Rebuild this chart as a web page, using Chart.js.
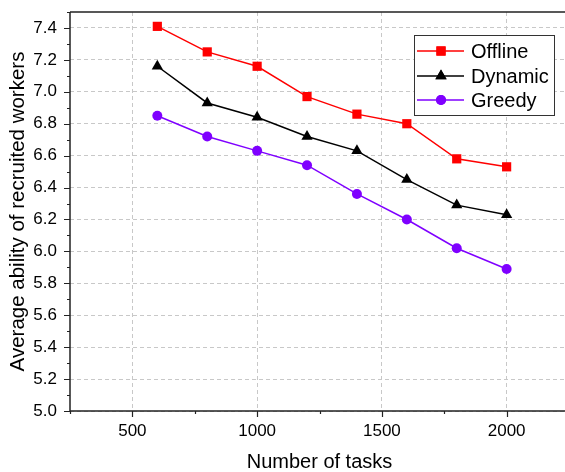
<!DOCTYPE html>
<html>
<head>
<meta charset="utf-8">
<script src="https://cdn.jsdelivr.net/npm/chart.js@4"></script>
<style>
html,body{margin:0;padding:0;background:#fff;overflow:hidden}
canvas{display:block}
</style>
</head>
<body>
<canvas id="chart" width="569" height="472"></canvas>
<script>
const tasks=[600,800,1000,1200,1400,1600,1800,2000]
const offline=[7.41,7.25,7.16,6.97,6.86,6.80,6.58,6.53]
const dynamic=[7.16,6.93,6.84,6.72,6.63,6.45,6.29,6.23]
const greedy=[6.85,6.72,6.63,6.54,6.36,6.20,6.02,5.89]
const xTicks=[500,1000,1500,2000]
const yTicks=[5.0,5.2,5.4,5.6,5.8,6.0,6.2,6.4,6.6,6.8,7.0,7.2,7.4]

const font="'Liberation Sans', Arial, sans-serif"
const axisColor="#222"

function pts(vals){
return tasks.map((t,i)=>({x:t,y:vals[i]}))
}

function series(label,vals,color,style,r){
return {
label:label,
data:pts(vals),
borderColor:color,
backgroundColor:color,
borderWidth:1.5,
pointStyle:style,
pointRadius:r,
pointHoverRadius:r,
pointBorderWidth:0,
tension:0
}
}

// frame, outward ticks (major + minor) and the legend box
const extras={
id:"extras",
afterDraw(chart){
const c=chart.ctx
const a=chart.chartArea
const xs=chart.scales.x
const ys=chart.scales.y
c.save()
c.strokeStyle=axisColor
c.lineWidth=1.5
c.beginPath()
c.moveTo(a.left,a.top)
c.lineTo(a.right,a.top)
c.moveTo(a.left,a.top)
c.lineTo(a.left,a.bottom)
c.lineTo(a.right,a.bottom)
c.stroke()

c.lineWidth=1.2
c.beginPath()
for(let v=250;v<=2250;v+=250){
let px=Math.round(xs.getPixelForValue(v))+0.5
let len=(v%500===0)?6:3
c.moveTo(px,a.bottom)
c.lineTo(px,a.bottom+len)
}
for(let k=0;k<=25;k++){
let v=5+k*0.1
let py=Math.round(ys.getPixelForValue(v))+0.5
let len=(k%2===0)?6:3
c.moveTo(a.left,py)
c.lineTo(a.left-len,py)
}
c.stroke()

// legend
const lx=414,ly=35,lw=140,lh=80
c.fillStyle="#fff"
c.fillRect(lx,ly,lw,lh)
c.strokeStyle="#333"
c.lineWidth=1
c.strokeRect(lx+0.5,ly+0.5,lw,lh)
const rows=[51,76,100]
chart.data.datasets.forEach((ds,i)=>{
let y=rows[i]
c.strokeStyle=ds.borderColor
c.lineWidth=1.5
c.beginPath()
c.moveTo(417,y)
c.lineTo(464,y)
c.stroke()
c.fillStyle=ds.backgroundColor
Chart.helpers.drawPoint(c,{pointStyle:ds.pointStyle,radius:ds.pointRadius,rotation:0,borderWidth:0},441,y)
c.fill()
c.fillStyle="#000"
c.font="20px "+font
c.textAlign="left"
c.textBaseline="middle"
c.fillText(ds.label,471,y+1)
})
c.restore()
}
}

new Chart(document.getElementById("chart"),{
type:"line",
data:{
datasets:[
series("Offline",offline,"#ff0000","rect",6.5),
series("Dynamic",dynamic,"#000000","triangle",6.5),
series("Greedy",greedy,"#7f00ff","circle",5)
]
},
options:{
animation:false,
responsive:false,
layout:{autoPadding:false,padding:{top:12,right:0,left:0,bottom:0}},
plugins:{legend:{display:false},tooltip:{enabled:false}},
scales:{
x:{
type:"linear",
min:250,
max:2250,
afterBuildTicks(s){s.ticks=xTicks.map(v=>({value:v}))},
afterFit(s){s.height=61;s.paddingRight=0;s.paddingLeft=0},
grid:{color:"#c8c8c8",lineWidth:1,drawTicks:false},
border:{display:false,dash:[4,3]},
ticks:{color:"#000",padding:10,font:{family:font,size:17},callback:v=>String(v)},
title:{display:true,text:"Number of tasks",color:"#000",font:{family:font,size:20,lineHeight:1},padding:{top:0,bottom:0}}
},
y:{
min:5.0,
max:7.5,
afterBuildTicks(s){s.ticks=yTicks.map(v=>({value:v}))},
afterFit(s){s.width=70;s.paddingTop=0;s.paddingBottom=0},
grid:{color:"#c8c8c8",lineWidth:1,drawTicks:false},
border:{display:false,dash:[4,3]},
ticks:{color:"#000",padding:13,font:{family:font,size:17},callback:v=>Number(v).toFixed(1)},
title:{display:true,text:"Average ability of recruited workers",color:"#000",font:{family:font,size:20.5},padding:{top:6,bottom:0}}
}
}
},
plugins:[extras]
})
</script>
</body>
</html>
